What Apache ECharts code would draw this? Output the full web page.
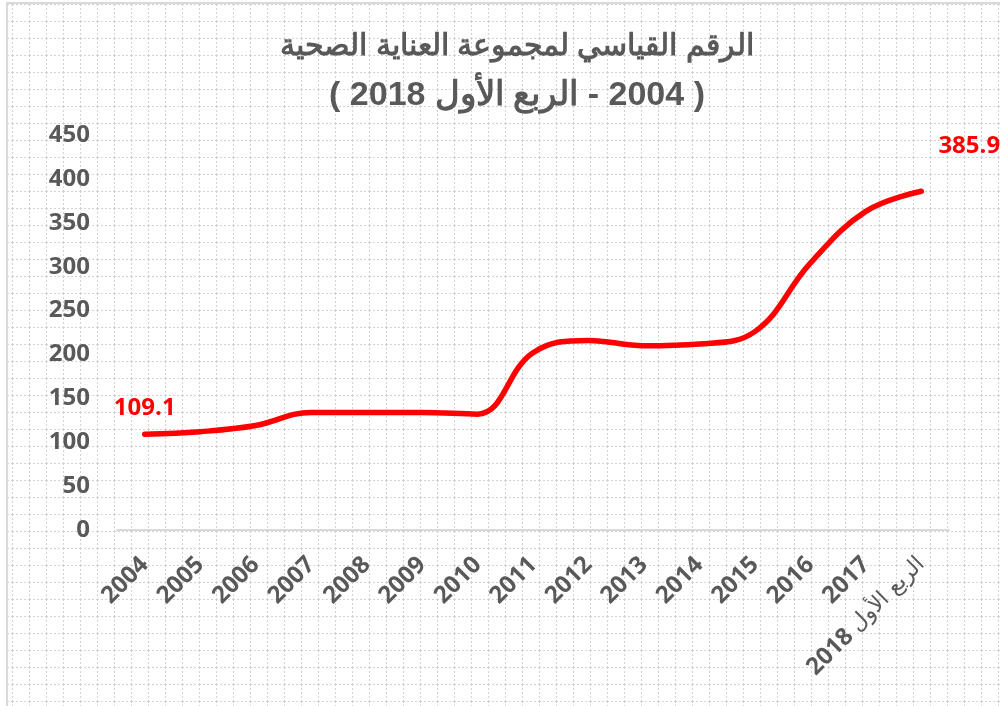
<!DOCTYPE html>
<html>
<head>
<meta charset="utf-8">
<script src="https://cdn.jsdelivr.net/npm/echarts@6/dist/echarts.min.js"></script>
<style>
  body { margin: 0; background: #fff; }
  #frame {
    position: absolute; left: 6px; top: 2px; width: 1000px; height: 710px;
    border-left: 2px solid #d9d9d9; border-top: 2px solid #d9d9d9;
    background-image: url("data:image/svg+xml;utf8,<svg xmlns='http://www.w3.org/2000/svg' width='17' height='17'><path d='M0 0.5H17M0.5 0V17' stroke='%23d2d2d2' stroke-width='1' stroke-dasharray='2 2' fill='none'/></svg>");
    background-position: 4px 0px;
  }
  #chart { position: absolute; left: 0; top: 0; width: 1000px; height: 706px; }
</style>
</head>
<body>
<div id="frame"></div>
<div id="chart"></div>
<script>
// العنوان
var titleLine1 = 'الرقم القياسي لمجموعة العناية الصحية';
var titleLine2 = '\u202B( 2004 - الربع الأول 2018 )\u202C';
// السنوات
var years = ['2004', '2005', '2006', '2007', '2008', '2009', '2010', '2011',
  '2012', '2013', '2014', '2015', '2016', '2017', 'الربع الأول 2018'];
// قيم الرقم القياسي
var values = [109.1, 112, 119, 134, 134, 134, 132, 202, 216, 210, 212, 226, 304, 363, 385.9];
// المحور الرأسي
var yMin = 0, yMax = 450, yStep = 50;

var chart = echarts.init(document.getElementById('chart'), null, { renderer: 'canvas' });

var lastIdx = values.length - 1;
var seriesData = values.map(function (v, i) {
  if (i === 0) return { value: v, label: { show: true } };
  if (i === lastIdx) return { value: v, label: { show: true, offset: [48, -19] } };
  return v;
});

var option = {
  backgroundColor: 'transparent',
  animation: false,
  title: {
    text: '{t1|' + titleLine1 + '}\n{t2|' + titleLine2 + '}',
    left: 512,
    textAlign: 'center',
    top: 18,
    textStyle: {
      rich: {
        t1: { fontFamily: 'Liberation Sans', fontWeight: 'bold', fontSize: 30, lineHeight: 48, color: '#595959' },
        t2: { fontFamily: 'Liberation Sans', fontWeight: 'bold', fontSize: 34, lineHeight: 50, color: '#595959' }
      }
    }
  },
  grid: { left: 117, right: 51, top: 135, bottom: 176, containLabel: false, outerBoundsMode: 'none' },
  xAxis: {
    type: 'category',
    data: years,
    boundaryGap: true,
    axisLine: { lineStyle: { color: '#d9d9d9', width: 2 } },
    axisTick: { show: false },
    axisLabel: {
      rotate: 45,
      margin: 31,
      interval: 0,
      fontFamily: 'Open Sans',
      fontWeight: 'bold',
      fontSize: 24,
      color: '#595959',
      formatter: function (val) {
        if (val.indexOf(' ') > -1) {
          var parts = val.split(' ');
          var num = parts.pop();
          return '{b|' + num + '} {a|' + parts.join(' ') + '}';
        }
        return val;
      },
      rich: {
        a: { fontFamily: 'DejaVu Sans', fontWeight: 'normal', fontSize: 22, color: '#595959' },
        b: { fontFamily: 'Open Sans', fontWeight: 'bold', fontSize: 24, color: '#595959' }
      }
    }
  },
  yAxis: {
    type: 'value',
    min: yMin,
    max: yMax,
    interval: yStep,
    splitLine: { show: false },
    axisLine: { show: false },
    axisTick: { show: false },
    axisLabel: {
      margin: 27,
      fontFamily: 'Open Sans',
      fontWeight: 'bold',
      fontSize: 24,
      color: '#595959'
    }
  },
  series: [{
    type: 'line',
    data: seriesData,
    smooth: 0.4,
    showSymbol: true,
    symbol: 'circle',
    symbolSize: 1,
    itemStyle: { color: 'rgba(0,0,0,0)' },
    lineStyle: { color: '#ff0000', width: 5.5, cap: 'round' },
    label: {
      show: false,
      position: 'top',
      distance: 14,
      fontFamily: 'Open Sans',
      fontWeight: 'bold',
      fontSize: 24,
      color: '#ff0000'
    }
  }]
};

chart.setOption(option);
</script>
</body>
</html>
